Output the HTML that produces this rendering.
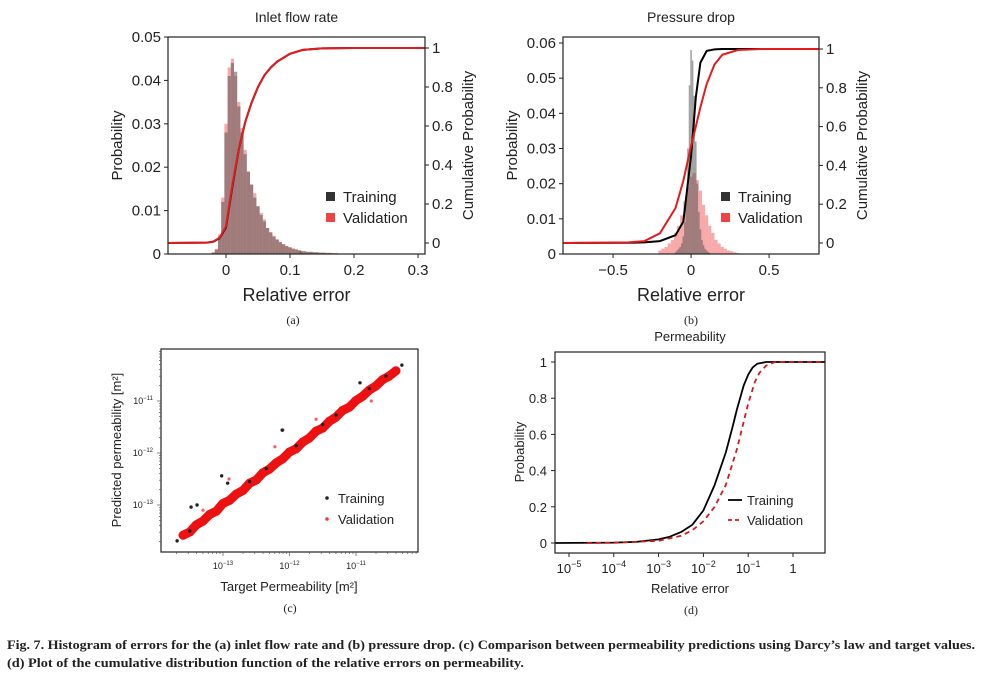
<!DOCTYPE html>
<html><head><meta charset="utf-8"><style>
body{margin:0;background:#fff;}
svg{display:block;font-family:"Liberation Sans",sans-serif;}
.cap{font-family:"Liberation Serif",serif;}
</style></head><body>
<svg id="fig" width="985" height="678" viewBox="0 0 985 678"></svg>
<script>
// ---------- Panel (a) data ----------
const aBins = [-0.02,-0.015,-0.01,-0.005,0,0.005,0.01,0.015,0.02,0.025,0.03,0.035,0.04,0.045,0.05,0.055,0.06,0.065,0.07,0.075,0.08,0.085,0.09,0.095,0.1,0.105,0.11,0.115,0.12,0.13,0.14,0.15,0.16,0.17,0.18,0.19];
const aTrain = [0.0003,0.001,0.004,0.012,0.028,0.041,0.044,0.042,0.034,0.028,0.023,0.019,0.016,0.013,0.011,0.009,0.0075,0.006,0.005,0.004,0.0033,0.0027,0.0022,0.0018,0.0015,0.0012,0.001,0.0008,0.0006,0.0005,0.0004,0.0003,0.0002,0.00015,0.0001,0.0001];
const aVal = [0.0004,0.0012,0.0045,0.013,0.03,0.043,0.045,0.041,0.035,0.029,0.024,0.019,0.016,0.014,0.011,0.0095,0.008,0.006,0.005,0.0042,0.0034,0.0028,0.0023,0.0019,0.0016,0.0013,0.0011,0.0009,0.0007,0.0005,0.0004,0.0003,0.0003,0.0002,0.0001,0.0001];
const aCdfX = [-0.09,-0.03,-0.02,-0.01,0,0.01,0.02,0.03,0.04,0.05,0.06,0.07,0.08,0.1,0.12,0.15,0.2,0.31];
const aCdfT = [0,0.002,0.006,0.025,0.08,0.29,0.48,0.62,0.72,0.8,0.86,0.9,0.93,0.97,0.99,0.998,1,1];
const aCdfV = [0,0.002,0.007,0.027,0.085,0.3,0.48,0.62,0.72,0.8,0.86,0.9,0.93,0.97,0.99,0.998,1,1];
const aXTicks = [0,0.1,0.2,0.3];
const aYTicks = [0,0.01,0.02,0.03,0.04,0.05];
const aYLabels = ["0","0.01","0.02","0.03","0.04","0.05"];
const cumTicks = [0,0.2,0.4,0.6,0.8,1];
const cumLabels = ["0","0.2","0.4","0.6","0.8","1"];
// ---------- Panel (b) data ----------
const bBinsT = [-0.1,-0.09,-0.08,-0.07,-0.06,-0.05,-0.04,-0.03,-0.02,-0.01,0,0.01,0.02,0.03,0.04,0.05,0.06,0.07,0.08,0.09,0.1,0.11,0.12];
const bTrain = [0.0005,0.001,0.0015,0.002,0.003,0.005,0.009,0.016,0.03,0.048,0.058,0.055,0.045,0.032,0.02,0.012,0.007,0.004,0.0025,0.0015,0.001,0.0006,0.0003];
const bBinsV = [-0.2,-0.18,-0.16,-0.14,-0.12,-0.1,-0.08,-0.06,-0.04,-0.02,0,0.02,0.04,0.06,0.08,0.1,0.12,0.14,0.16,0.18,0.2,0.22,0.24,0.26,0.28,0.3];
const bVal = [0.001,0.0015,0.002,0.003,0.004,0.006,0.008,0.011,0.015,0.019,0.022,0.023,0.021,0.018,0.014,0.011,0.008,0.006,0.004,0.003,0.002,0.0015,0.001,0.0008,0.0005,0.0003];
const bCdfX = [-0.83,-0.4,-0.3,-0.2,-0.1,-0.05,0,0.03,0.06,0.1,0.15,0.2,0.3,0.45,0.82];
const bCdfT = [0,0.001,0.003,0.01,0.04,0.11,0.45,0.75,0.93,0.99,0.998,1,1,1,1];
const bCdfV = [0,0.003,0.01,0.05,0.18,0.32,0.5,0.6,0.7,0.82,0.92,0.97,0.995,1,1];
const bXTicks = [-0.5,0,0.5];
const bXLabels = ["\u22120.5","0","0.5"];
const bYTicks = [0,0.01,0.02,0.03,0.04,0.05,0.06];
const bYLabels = ["0","0.01","0.02","0.03","0.04","0.05","0.06"];
// ---------- Panel (c) data (log10 values) ----------
const cValT = [-13.6,-13.5,-13.4,-13.3,-13.2,-13.1,-13.0,-12.9,-12.8,-12.7,-12.6,-12.5,-12.4,-12.3,-12.2,-12.1,-12.0,-11.9,-11.8,-11.7,-11.6,-11.5,-11.4,-11.3,-11.2,-11.1,-11.0,-10.9,-10.8,-10.7,-10.6,-10.5,-10.4];
const cValP = [-13.58,-13.52,-13.38,-13.31,-13.18,-13.12,-12.97,-12.91,-12.79,-12.72,-12.58,-12.52,-12.38,-12.31,-12.19,-12.11,-11.98,-11.92,-11.79,-11.71,-11.58,-11.52,-11.39,-11.31,-11.18,-11.12,-10.99,-10.91,-10.79,-10.71,-10.59,-10.52,-10.42];
const cValOutT = [-12.1,-12.91,-10.77,-12.22,-13.3,-11.6];
const cValOutP = [-11.56,-12.5,-11.0,-11.88,-13.1,-11.35];
const cTrT = [-13.69,-13.5,-13.48,-13.39,-13.02,-12.93,-12.6,-12.35,-12.11,-11.9,-11.5,-11.3,-10.94,-10.8,-10.55,-10.31];
const cTrP = [-13.69,-13.5,-13.04,-13.0,-12.44,-12.58,-12.55,-12.3,-11.56,-11.86,-11.45,-11.27,-10.65,-10.76,-10.52,-10.31];
const cTicks = [-13,-12,-11];
const cTickLabels = ["10","10","10"];
const cTickExp = ["\u221213","\u221212","\u221211"];
// ---------- Panel (d) data (log10 x) ----------
const dTrX = [-5.31,-4,-3.5,-3,-2.75,-2.5,-2.25,-2,-1.75,-1.5,-1.35,-1.25,-1.1,-1,-0.9,-0.8,-0.6,0.71];
const dTrY = [0,0.002,0.006,0.02,0.035,0.06,0.1,0.18,0.32,0.5,0.64,0.74,0.87,0.93,0.97,0.99,1,1];
const dVaX = [-4.6,-4,-3,-2.5,-2.25,-2,-1.75,-1.5,-1.25,-1.1,-1,-0.85,-0.75,-0.6,-0.4,0.71];
const dVaY = [0,0.001,0.012,0.04,0.07,0.12,0.2,0.32,0.52,0.67,0.77,0.89,0.94,0.98,1,1];
const dXTicks = [-5,-4,-3,-2,-1,0];
const dXExp = ["\u22125","\u22124","\u22123","\u22122","\u22121",""];
const dYTicks = [0,0.2,0.4,0.6,0.8,1];
const dYLabels = ["0","0.2","0.4","0.6","0.8","1"];

const NS="http://www.w3.org/2000/svg";
const svg=document.getElementById('fig');
function mk(tag,attrs,parent,text){const e=document.createElementNS(NS,tag);for(const k in attrs)e.setAttribute(k,attrs[k]);if(text!==undefined)e.textContent=text;(parent||svg).appendChild(e);return e;}
function lin(d0,d1,r0,r1){return v=>r0+(v-d0)/(d1-d0)*(r1-r0);}
function txt(x,y,s,size,anchor,parent,name,extra){const t=mk('text',Object.assign({x:x,y:y,'font-size':size,'text-anchor':anchor||'middle',fill:'#222'},extra||{}),parent,s);return t;}
function grp(name){const g=mk('g',{});return g;}
function pathOf(xs,ys,sx,sy){return xs.map((v,i)=>(i?'L':'M')+sx(v).toFixed(1)+' '+sy(ys[i]).toFixed(1)).join(' ');}

function histPanel(o){
  const g=grp(o.name);
  const sx=lin(o.x0,o.x1,o.L,o.R), sy=lin(0,o.ymax,o.B,o.yTopPx), sc=lin(0,1,o.c0,o.c1);
  const cl=mk('clipPath',{id:o.name+'-clip'},g);mk('rect',{x:o.L,y:o.T,width:o.R-o.L,height:o.B-o.T},cl);
  const hg=mk('g',{'clip-path':'url(#'+o.name+'-clip)'},g);
  function bars(bins,vals,col,op,nm){
    const bg=mk('g',{},hg);
    bins.forEach((b,i)=>{const w=(i<bins.length-1?bins[i+1]-b:bins[i]-bins[i-1]);
      const x=sx(b-w/2),x2=sx(b+w/2),y=sy(vals[i]);
      const r=mk('rect',{x:x,y:y,width:Math.max(0.5,x2-x),height:o.B-y,fill:col,'fill-opacity':op},bg);
      });
  }
  bars(o.binsV,o.val,'#f04040',0.45,'validation-histogram');
  bars(o.binsT,o.tr,'#555',0.55,'training-histogram');
  const p1=mk('path',{d:pathOf(o.cx,o.ct,sx,sc),fill:'none',stroke:'#000','stroke-width':2},hg);
  
  const p2=mk('path',{d:pathOf(o.cx,o.cv,sx,sc),fill:'none',stroke:'#e41a1c','stroke-width':2},hg);
  
  const fr=mk('rect',{x:o.L,y:o.T,width:o.R-o.L,height:o.B-o.T,fill:'none',stroke:'#222','stroke-width':1.2},g);
  
  o.xt.forEach((v,i)=>{const x=sx(v);mk('line',{x1:x,x2:x,y1:o.B,y2:o.B+4,stroke:'#222'},g);txt(x,o.B+21,o.xl[i],15,'middle',g,'x-tick-label');});
  o.yt.forEach((v,i)=>{const y=sy(v);mk('line',{x1:o.L-4,x2:o.L,y1:y,y2:y,stroke:'#222'},g);txt(o.L-7,y+5,o.yl[i],15,'end',g,'y-tick-label');});
  cumTicks.forEach((v,i)=>{const y=sc(v);mk('line',{x1:o.R,x2:o.R+4,y1:y,y2:y,stroke:'#222'},g);txt(o.R+7,y+5,cumLabels[i],15,'start',g,'right-tick-label');});
  txt((o.L+o.R)/2,22,o.title,14,'middle',g,'panel-title');
  txt((o.L+o.R)/2,301,'Relative error',18,'middle',g,'x-axis-title');
  txt(0,0,'Probability',15,'middle',g,'y-axis-title',{transform:'translate('+(o.L-46)+','+((o.T+o.B)/2)+') rotate(-90)'});
  txt(0,0,'Cumulative Probability',15,'middle',g,'right-axis-title',{transform:'translate('+(o.R+48)+','+((o.T+o.B)/2)+') rotate(-90)'});
  const lx=o.legX;
  let s=mk('rect',{x:lx-5,y:192,width:9,height:9,fill:'#333'},g);
  txt(lx+12,202,'Training',15,'start',g,'legend-training');
  s=mk('rect',{x:lx-5,y:213,width:9,height:9,fill:'#ef4444'},g);
  txt(lx+12,223,'Validation',15,'start',g,'legend-validation');
}
histPanel({name:'panel-a-inlet-flow-rate',title:'Inlet flow rate',L:168,R:425,T:37,B:254,x0:-0.0906,x1:0.3109,ymax:0.05,yTopPx:37,c0:243,c1:48,
  binsT:aBins,binsV:aBins,tr:aTrain,val:aVal,cx:aCdfX,ct:aCdfT,cv:aCdfV,xt:aXTicks,xl:["0","0.1","0.2","0.3"],yt:aYTicks,yl:aYLabels,legX:331});
histPanel({name:'panel-b-pressure-drop',title:'Pressure drop',L:563,R:819,T:37,B:254,x0:-0.821,x1:0.82,ymax:0.06,yTopPx:43,c0:243,c1:49,
  binsT:bBinsT,binsV:bBinsV,tr:bTrain,val:bVal,cx:bCdfX,ct:bCdfT,cv:bCdfV,xt:bXTicks,xl:bXLabels,yt:bYTicks,yl:bYLabels,legX:726});

// ===== Panel (c) scatter =====
(function(){
  const g=grp('panel-c-scatter');
  const L=161,R=418,T=349,B=552;
  const sx=lin(-13,-11,223,356), sy=lin(-13,-11,505,401);
  const fr=mk('rect',{x:L,y:T,width:R-L,height:B-T,fill:'none',stroke:'#222','stroke-width':1.2},g);
  
  for(let d=-14;d<=-11;d++){for(let m=1;m<10;m++){const lv=d+Math.log10(m);
    const x=sx(lv);if(x>L&&x<R)mk('line',{x1:x,x2:x,y1:B,y2:B+(m==1?4:2),stroke:'#555','stroke-width':0.7},g);
    const y=sy(lv);if(y>T&&y<B)mk('line',{x1:L-(m==1?4:2),x2:L,y1:y,y2:y,stroke:'#555','stroke-width':0.7},g);}}
  cTicks.forEach((v,i)=>{
    const x=sx(v);const t=txt(x,B+17,cTickLabels[i],9,'middle',g,'x-tick-label');mk('tspan',{dy:-4,'font-size':6},t,cTickExp[i]);
    const y=sy(v);const t2=txt(L-8,y+3,cTickLabels[i],9,'end',g,'y-tick-label');mk('tspan',{dy:-4,'font-size':6},t2,cTickExp[i]);
  });
  const vg=mk('g',{},g);
  const band=mk('path',{d:pathOf(cValT,cValP,sx,sy),fill:'none',stroke:'#ee1111','stroke-width':9,'stroke-linecap':'round','stroke-linejoin':'round'},vg);
  
  cValT.forEach((v,i)=>{const c=mk('circle',{cx:sx(v),cy:sy(cValP[i]),r:4.5,fill:'#ee1111'},vg);});
  cValOutT.forEach((v,i)=>{const c=mk('circle',{cx:sx(v),cy:sy(cValOutP[i]),r:1.6,fill:'#f33','fill-opacity':0.8},vg);});
  const tg=mk('g',{},g);
  cTrT.forEach((v,i)=>{const c=mk('circle',{cx:sx(v),cy:sy(cTrP[i]),r:1.7,fill:'#222'},tg);});
  txt(289,591,'Target Permeability [m²]',13,'middle',g,'x-axis-title');
  txt(0,0,'Predicted permeability [m²]',13,'middle',g,'y-axis-title',{transform:'translate(121,450) rotate(-90)'});
  let d=mk('circle',{cx:327,cy:498,r:1.8,fill:'#222'},g);
  txt(338,503,'Training',13,'start',g,'legend-training');
  d=mk('circle',{cx:327,cy:519,r:1.8,fill:'#f33'},g);
  txt(338,524,'Validation',13,'start',g,'legend-validation');
})();

// ===== Panel (d) CDF =====
(function(){
  const g=grp('panel-d-permeability-cdf');
  const L=555,R=825,T=352,B=553;
  const sx=lin(-5,0,569,793), sy=lin(0,1,543,362);
  const p1=mk('path',{d:pathOf(dTrX,dTrY,sx,sy),fill:'none',stroke:'#000','stroke-width':1.8,'stroke-linejoin':'round'},g);
  
  const p2=mk('path',{d:pathOf(dVaX,dVaY,sx,sy),fill:'none',stroke:'#d7191c','stroke-width':1.8,'stroke-dasharray':'5,4'},g);
  
  const fr=mk('rect',{x:L,y:T,width:R-L,height:B-T,fill:'none',stroke:'#222','stroke-width':1.2},g);
  
  dXTicks.forEach((v,i)=>{const x=sx(v);mk('line',{x1:x,x2:x,y1:B,y2:B+4,stroke:'#222'},g);
    const t=txt(x,B+20,dXExp[i]?'10':'1',13,'middle',g,'x-tick-label');if(dXExp[i])mk('tspan',{dy:-6,'font-size':9},t,dXExp[i]);});
  dYTicks.forEach((v,i)=>{const y=sy(v);mk('line',{x1:L-4,x2:L,y1:y,y2:y,stroke:'#222'},g);txt(L-8,y+5,dYLabels[i],13,'end',g,'y-tick-label');});
  txt(690,341,'Permeability',13,'middle',g,'panel-title');
  txt(690,593,'Relative error',13,'middle',g,'x-axis-title');
  txt(0,0,'Probability',13,'middle',g,'y-axis-title',{transform:'translate(524,452) rotate(-90)'});
  let l=mk('line',{x1:728,x2:742,y1:500,y2:500,stroke:'#000','stroke-width':1.8},g);
  txt(747,505,'Training',13,'start',g,'legend-training');
  l=mk('line',{x1:728,x2:742,y1:520,y2:520,stroke:'#d7191c','stroke-width':1.8,'stroke-dasharray':'4,3'},g);
  txt(747,525,'Validation',13,'start',g,'legend-validation');
})();

// ===== captions =====
[['(a)',293,324],['(b)',691,324],['(c)',290,612],['(d)',691,614]].forEach(c=>{const t=txt(c[1],c[2],c[0],12,'middle',null,'subfigure-label');t.setAttribute('class','cap');});
let cp=txt(7,649,'Fig. 7.  Histogram of errors for the (a) inlet flow rate and (b) pressure drop. (c) Comparison between permeability predictions using Darcy\u2019s law and target values.',12.5,'start',null,'figure-caption-line1',{'font-weight':'bold',textLength:968,lengthAdjust:'spacingAndGlyphs'});cp.setAttribute('class','cap');
cp=txt(7,667,'(d) Plot of the cumulative distribution function of the relative errors on permeability.',12.5,'start',null,'figure-caption-line2',{'font-weight':'bold',textLength:517,lengthAdjust:'spacingAndGlyphs'});cp.setAttribute('class','cap');
</script>
</body></html>
